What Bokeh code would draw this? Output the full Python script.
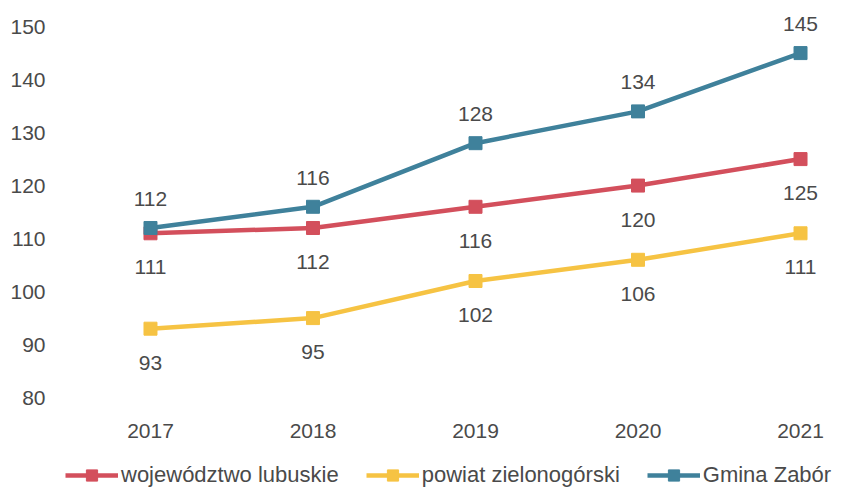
from bokeh.plotting import figure
from bokeh.models import ColumnDataSource, Legend, LegendItem, FixedTicker, Range1d, LabelSet
from bokeh.core.properties import value
from bokeh.embed import file_html
from bokeh.resources import INLINE

years = [2017, 2018, 2019, 2020, 2021]
woj = [111, 112, 116, 120, 125]
powiat = [93, 95, 102, 106, 111]
gmina = [112, 116, 128, 134, 145]
names = ["województwo lubuskie", "powiat zielonogórski", "Gmina Zabór"]
colors = ["#d34f5c", "#f6c343", "#3f819b"]
y_ticks = [80, 90, 100, 110, 120, 130, 140, 150]

FONT = "Liberation Sans"
TXT = "#4a4a4a"

p = figure(frame_width=788, frame_height=482, output_backend="svg", toolbar_location=None,
           x_range=Range1d(2016.397, 2021.246), y_range=Range1d(62.66, 153.6),
           min_border_left=52, min_border_right=0, min_border_top=7, min_border_bottom=0,
           border_fill_color="white")
p.outline_line_color = None
p.grid.grid_line_color = None
p.background_fill_color = "white"

p.yaxis.ticker = FixedTicker(ticks=y_ticks)
p.xaxis.ticker = FixedTicker(ticks=years)
for ax in (p.xaxis[0], p.yaxis[0]):
    ax.axis_line_color = None
    ax.major_tick_line_color = None
    ax.minor_tick_line_color = None
    ax.major_tick_out = 0
    ax.major_tick_in = 0
    ax.major_label_text_font = FONT
    ax.major_label_text_font_size = "21px"
    ax.major_label_text_color = TXT
p.yaxis.major_label_standoff = 7
p.xaxis.major_label_standoff = -66

items = []
series = [woj, powiat, gmina]
offsets = [-34, -34, 29]
for name, vals, col, off in zip(names, series, colors, offsets):
    src = ColumnDataSource(dict(x=years, y=vals, t=[str(v) for v in vals]))
    r1 = p.line("x", "y", source=src, line_color=col, line_width=4.5)
    r2 = p.scatter("x", "y", source=src, marker="square", size=13, fill_color=col, line_color=col)
    lbl = LabelSet(x="x", y="y", text="t", source=src, y_offset=off, x_offset=0,
                   text_align="center", text_baseline="middle", text_font=value(FONT),
                   text_font_size=value("21px"), text_color=TXT)
    p.add_layout(lbl)
    items.append(LegendItem(label=name, renderers=[r1, r2]))

legend = Legend(items=items, orientation="horizontal", location=(13, 0),
                label_text_font=FONT, label_text_font_size="22px", label_text_color=TXT,
                glyph_width=53, glyph_height=28, spacing=27, label_standoff=3,
                border_line_color=None, background_fill_alpha=0,
                padding=0, margin=0)
p.add_layout(legend)

open("out.html", "w").write(file_html(p, INLINE))
